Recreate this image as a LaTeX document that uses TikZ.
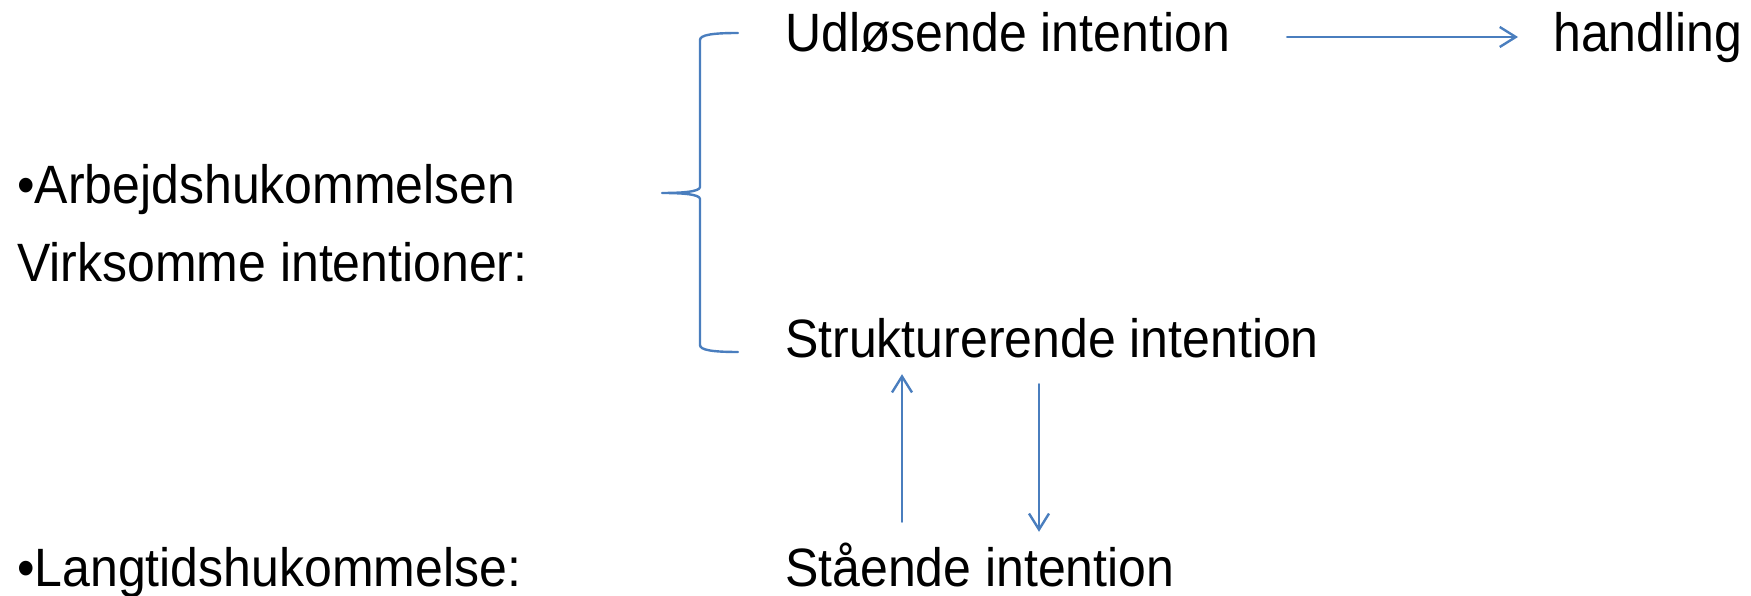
\documentclass[tikz,border=0pt]{standalone}
\usepackage{fontspec}
\setmainfont{Liberation Sans}
\usetikzlibrary{arrows.meta}
\definecolor{linjeblaa}{RGB}{74,126,190}
\newcommand{\hoej}[1]{\scalebox{1}[1.08]{#1}}
\begin{document}
\begin{tikzpicture}[x = 1pt, y = 1pt, line join=round, line cap=round, >={Straight Barb[length=16pt,width=20pt]}]
		
		\useasboundingbox (0,0) rectangle (1751,596);
		\tikzset{tekst/.style = {inner sep = 0, anchor = base west, text height = 30pt, text depth = 0pt,
				font = \fontsize{50}{60}\selectfont},
			linje/.style = {draw = linjeblaa, line width = 2.4}}
		
		% venstre kolonne
		\node[tekst] (arb) at (17,392) {\hoej{•Arbejdshukommelsen}};
		\node[tekst] (virk) at (17,314) {\hoej{Virksomme intentioner:}};
		\node[tekst] (lang) at (17,9) {\hoej{•Langtidshukommelse:}};
		
		% hoejre kolonne
		\node[tekst] (udl) at (785,544) {\hoej{Udløsende intention}};
		\node[tekst] (hand) at (1553,544) {\hoej{handling}};
		\node[tekst] (struk) at (785,238) {\hoej{Strukturerende intention}};
		\node[tekst] (stand) at (785,9) {\hoej{Stående intention}};
		
		% klammen
		\coordinate (spids) at (662,403);
		\draw[linje] (738,563) .. controls (712,563) and (700,561) .. (700,556) -- (700,409)
		.. controls (700,404) and (680,403) .. (spids)
		.. controls (680,403) and (700,402) .. (700,397) -- (700,251)
		.. controls (700,246) and (712,244) .. (738,244);
		
		% pile
		\draw[linje, ->, shorten <= 57pt, shorten >= 35pt] (udl.east) -- (hand.west);
		\draw[linje, ->] ([xshift=117pt, yshift=35pt]stand.north west) -- ([xshift=117pt, yshift=-16pt]struk.south west);
		\draw[linje, ->] ([xshift=254pt, yshift=-26pt]struk.south west) -- ([xshift=254pt, yshift=25pt]stand.north west);
		
\end{tikzpicture}
\end{document}
